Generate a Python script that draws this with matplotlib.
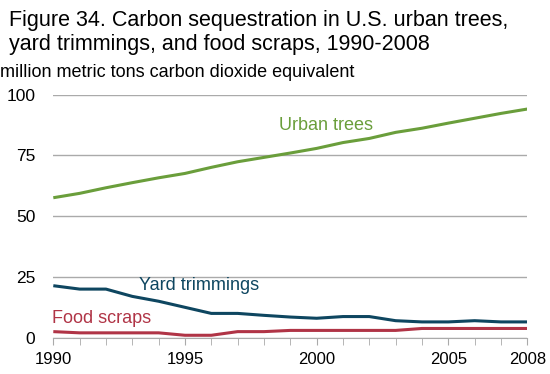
import numpy as np
import matplotlib
matplotlib.use('Agg')
from matplotlib import pyplot as plt
from matplotlib.ticker import MultipleLocator

plt.rcParams['font.family'] = ['Liberation Sans', 'DejaVu Sans']

#%% Data
years = list(range(1990, 2009))
urban_trees = [57.6, 59.4, 61.7, 63.8, 65.8, 67.6, 70.1, 72.4, 74.2, 76.0,
               77.9, 80.3, 82.0, 84.5, 86.2, 88.3, 90.3, 92.3, 94.1]
yard_trimmings = [21.4, 20.0, 20.0, 17.0, 15.0, 12.5, 10.0, 10.0, 9.2, 8.5,
                  8.0, 8.7, 8.7, 7.0, 6.5, 6.5, 7.0, 6.5, 6.5]
food_scraps = [2.5, 2.0, 2.0, 2.0, 2.0, 1.0, 1.0, 2.5, 2.5, 3.0,
               3.0, 3.0, 3.0, 3.0, 3.8, 3.8, 3.8, 3.8, 3.8]
xtick_labels = [1990, 1995, 2000, 2005, 2008]
ytick_labels = [0, 25, 50, 75, 100]

green = '#6a9e3b'
blue = '#0e4660'
red = '#b03446'
grid_gray = '#aaaaaa'

#%% Plot
W, H = 550, 374
fig = plt.figure(figsize=[W/100, H/100], dpi=100)
ax = fig.add_axes([53.3/W, 1 - 337.7/H, 474/W, 243/H])

ax.plot(years, urban_trees, color=green, lw=2.2, solid_capstyle='butt')
ax.plot(years, yard_trimmings, color=blue, lw=2.2, solid_capstyle='butt')
ax.plot(years, food_scraps, color=red, lw=2.2, solid_capstyle='butt')

ax.text(1998.57, 85.5, 'Urban trees', color=green, fontsize=13, va='baseline')
ax.text(1993.27, 19.6, 'Yard trimmings', color=blue, fontsize=13, va='baseline')
ax.text(1989.96, 6.0, 'Food scraps', color=red, fontsize=13, va='baseline')

ax.set_xlim(1990, 2008)
ax.set_ylim(0, 100)
ax.set_yticks(ytick_labels)
ax.set_xticks(xtick_labels)
ax.xaxis.set_minor_locator(MultipleLocator(1))
ax.yaxis.grid(True, color=grid_gray, lw=1)
ax.set_axisbelow(True)
for s in ['top', 'right', 'left']:
    ax.spines[s].set_visible(False)
ax.spines['bottom'].set_color(grid_gray)
ax.tick_params(axis='y', length=0, labelsize=12.5, pad=13)
ax.tick_params(axis='x', which='both', direction='out', color=grid_gray,
               length=5, labelsize=12, pad=5)

fig.text(9/W, 1 - 26/H, 'Figure 34. Carbon sequestration in U.S. urban trees,',
         fontsize=15.5, va='baseline')
fig.text(9/W, 1 - 50/H, 'yard trimmings, and food scraps, 1990-2008',
         fontsize=15.5, va='baseline')
fig.text(0.5/W, 1 - 77/H, 'million metric tons carbon dioxide equivalent',
         fontsize=13, va='baseline')

plt.savefig('out.png', dpi=100)
